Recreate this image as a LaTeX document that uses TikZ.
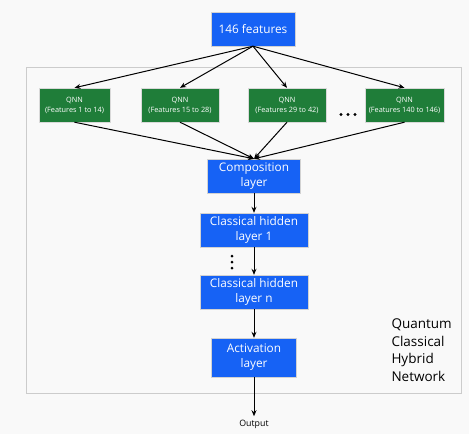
\documentclass[tikz,border=0pt]{standalone}
\usepackage{fontspec}
\setmainfont{Open Sans}
\usepackage{tikz}
\usetikzlibrary{arrows.meta}
\definecolor{layerblue}{RGB}{22,98,245}
\definecolor{qnngreen}{RGB}{31,125,57}
\definecolor{pagegray}{RGB}{249,249,249}
\tikzset{layer/.style={draw=gray!35, fill=layerblue, text=white, align=center,
        inner sep=0pt, minimum height=34pt, font=\fontsize{11.8}{15}\selectfont},
    qnn/.style={draw=gray!30, fill=qnngreen, text=white, align=center,
        inner sep=0pt, minimum height=34pt, font=\fontsize{7.3}{10}\selectfont},
    link/.style={-{Stealth[length=6pt,width=5pt]}, line width=1pt}}

\begin{document}
\begin{tikzpicture}[x=1pt, y=-1pt]
        \fill[pagegray] (0,0) rectangle (469,434);
        \useasboundingbox (0,0) rectangle (469,434);
        \draw[gray!40] (26,67) rectangle (461,393);

        \node[layer, minimum width=84pt, font=\fontsize{11.8}{14}\selectfont] (feat) at (253,29) {146 features};

        \node[qnn, minimum width=71pt] (q1) at (74.5,105) {QNN\\(Features 1 to 14)};
        \node[qnn, minimum width=78pt] (q2) at (180,105) {QNN\\(Features 15 to 28)};
        \node[qnn, minimum width=78pt] (q3) at (287,105) {QNN\\(Features 29 to 42)};
        \node[qnn, minimum width=79pt] (q4) at (404.5,105) {QNN\\(Features 140 to 146)};
        % dots between the QNN blocks and between the hidden layers
        \foreach \x in {341,348,355} \fill (\x,114.5) circle (1.7);
        \foreach \y in {256,262,268} \fill (232,\y) circle (1.5);

        \node[layer, minimum width=93pt] (comp) at (254,176) {Composition\\layer};
        \node[layer, minimum width=108pt] (hid1) at (254,230) {Classical hidden\\layer 1};
        \node[layer, minimum width=108pt] (hidn) at (254,292) {Classical hidden\\layer n};
        \node[layer, minimum width=85pt, minimum height=39pt] (act) at (254,357.5) {Activation\\layer};
        \node[font=\fontsize{8.8}{10}\selectfont] (out) at (254,424) {Output};

        \node[align=left, anchor=west, font=\fontsize{13.5}{17.5}\selectfont] (title) at (388,350)
            {Quantum\\Classical\\Hybrid\\Network};

        \foreach \q in {q1,q2,q3,q4} {
            \draw[link] (feat.south) -- (\q.north);
            \draw[link] (\q.south) -- (comp.north);
        }
        \draw[link] (comp) -- (hid1);
        \draw[link] (hid1) -- (hidn);
        \draw[link] (hidn) -- (act);
        \draw[link] (act) -- (out);
    \end{tikzpicture}
\end{document}
